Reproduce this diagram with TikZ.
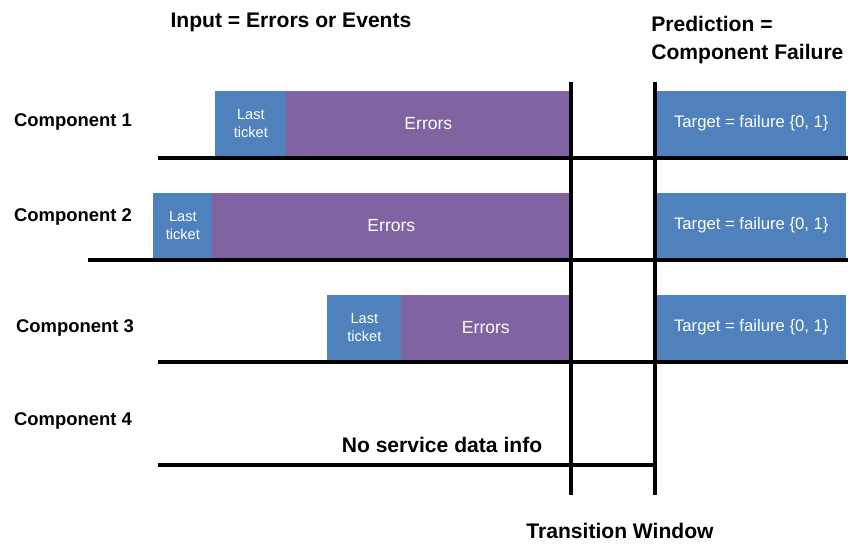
\documentclass[tikz,border=0pt]{standalone}
\usepackage{fontspec}
\setmainfont{Liberation Sans}
\usetikzlibrary{positioning}
\definecolor{tktblue}{HTML}{4F81BD}
\definecolor{errpurple}{HTML}{8064A2}
\tikzset{
  comp/.style={font=\bfseries\fontsize{10.5}{12}\selectfont},
  head/.style={font=\bfseries\fontsize{12}{16}\selectfont,inner sep=0pt},
  box/.style={inner sep=0pt,text=white,minimum height=1.32cm,align=center},
  tktbox/.style={box,fill=tktblue,font=\fontsize{8.3}{10}\selectfont},
  errbox/.style={box,fill=errpurple,font=\fontsize{10}{12}\selectfont},
  tgtbox/.style={box,fill=tktblue,minimum width=3.8cm,font=\fontsize{9.5}{11}\selectfont},
  bar/.style={line width=2.3pt}
}
\begin{document}
\begin{tikzpicture}[x=0.02cm,y=-0.02cm]
  \useasboundingbox (0,0) rectangle (863,558);
  % titles
  \node[head] (input) at (291,22) {Input = Errors or Events};
  \node[head,anchor=west,align=left] (pred) at (651,40) {Prediction =\\Component Failure};
  \node[head] (trans) at (620,531) {Transition Window};
  % components
  \foreach \n/\y/\x in {1/122/73, 2/217/73, 3/328/75, 4/421/73}
    \node[comp] (comp\n) at (\x,\y) {Component \n};
  % event boxes
  \foreach \n/\b/\t/\e in {1/158/215/286, 2/260/153/212, 3/362/327/401}{
    \node[tktbox,minimum width={(\e-\t)*0.02cm},anchor=south west] (tkt\n) at (\t,\b-1) {Last\\ticket};
    \node[errbox,minimum width={(570-\e)*0.02cm},anchor=south west] (err\n) at (\e,\b-1) {Errors};
    \node[tgtbox,anchor=south west] (tgt\n) at (656,\b-1) {Target = failure \{0, 1\}};
  }
  \node[head] (nodata) at (442,445) {No service data info};
  % time lines
  \draw[bar] (158,158) -- (848,158);
  \draw[bar] (88,260) -- (848,260);
  \draw[bar] (158,362) -- (848,362);
  \draw[bar] (158,465) -- (655,465);
  \draw[bar] (571,82) -- (571,495);
  \draw[bar] (655,82) -- (655,495);
\end{tikzpicture}
\end{document}
